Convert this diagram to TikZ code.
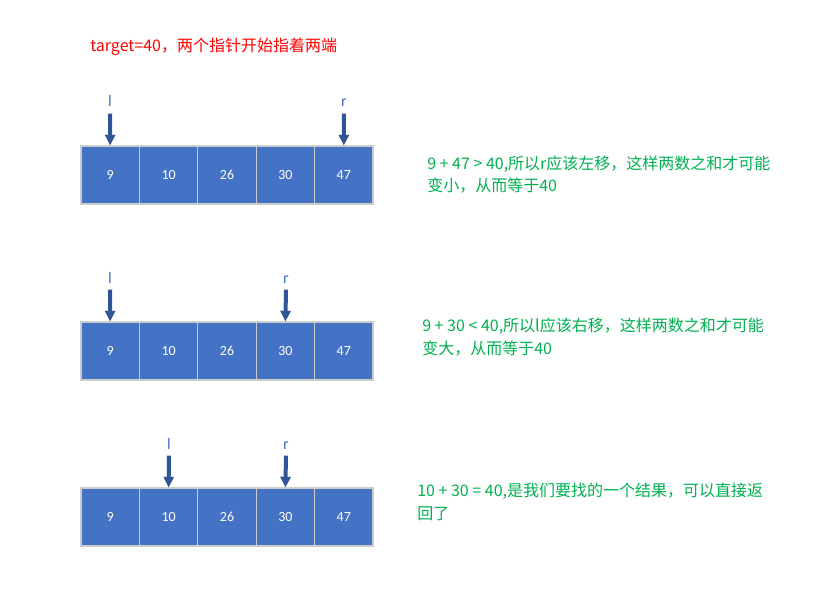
\documentclass[tikz,border=0pt]{standalone}
\usepackage{fontspec}
\setmainfont{Carlito}
\newfontfamily\cjk{Noto Sans CJK SC}
\usetikzlibrary{arrows.meta}
\definecolor{cellblue}{HTML}{4472C4}
\definecolor{ptrblue}{HTML}{2F5597}
\definecolor{notegreen}{HTML}{00B050}
\tikzset{
  cell/.style={draw=gray!40,line width=0.8pt,fill=cellblue,text=white,inner sep=0pt,
    minimum width=43.8pt,minimum height=43.5pt,font=\fontsize{10.5}{12}\selectfont},
  ptr/.style={text=cellblue,inner sep=0pt,anchor=base,font=\fontsize{12}{14}\selectfont},
  ptrarrow/.style={draw=ptrblue,line width=3pt,-{Triangle[width=7.5pt,length=8pt]}},
  note/.style={text=notegreen,anchor=base west,align=left,inner sep=0pt,
    font=\cjk\fontsize{12}{16.8}\selectfont}
}
\begin{document}
\begin{tikzpicture}[x=0.75pt,y=-0.75pt]
  \useasboundingbox (0,0) rectangle (825,606);
  \node[text=red,anchor=base west,inner sep=0pt,font=\cjk\fontsize{12}{14}\selectfont] (title)
    at (90,52) {target=40，两个指针开始指着两端};
  % three rows of the array
  \foreach \v [count=\i] in {9,10,26,30,47} {
    \node[cell] (a\i) at ({81+58.4*(\i-0.5)},175) {\v};
    \node[cell] (b\i) at ({81+58.4*(\i-0.5)},351) {\v};
    \node[cell] (c\i) at ({81+58.4*(\i-0.5)},517) {\v};
  }
  % pointers
  \node[ptr] (la) at (110,107) {l};
  \node[ptr] (ra) at (344,107) {r};
  \node[ptr] (lb) at (110,283) {l};
  \node[ptr] (rb) at (286,283) {r};
  \node[ptr] (lc) at (169,449) {l};
  \node[ptr] (rc) at (286,449) {r};
  \draw[ptrarrow] ([yshift=-5pt]la.base) -- (a1.north);
  \draw[ptrarrow] ([yshift=-5pt]ra.base) -- (a5.north);
  \draw[ptrarrow] ([yshift=-5pt]lb.base) -- (b1.north);
  \draw[ptrarrow] ([yshift=-5pt]rb.base) -- (b4.north);
  \draw[ptrarrow] ([yshift=-5pt]lc.base) -- (c2.north);
  \draw[ptrarrow] ([yshift=-5pt]rc.base) -- (c4.north);
  % notes (base is the last line)
  \node[note] (na) at (427,192) {9 + 47 > 40,所以r应该左移，这样两数之和才可能\\变小，从而等于40};
  \node[note] (nb) at (422,354) {9 + 30 < 40,所以l应该右移，这样两数之和才可能\\变大，从而等于40};
  \node[note] (nc) at (417,519) {10 + 30 = 40,是我们要找的一个结果，可以直接返\\回了};
\end{tikzpicture}
\end{document}
